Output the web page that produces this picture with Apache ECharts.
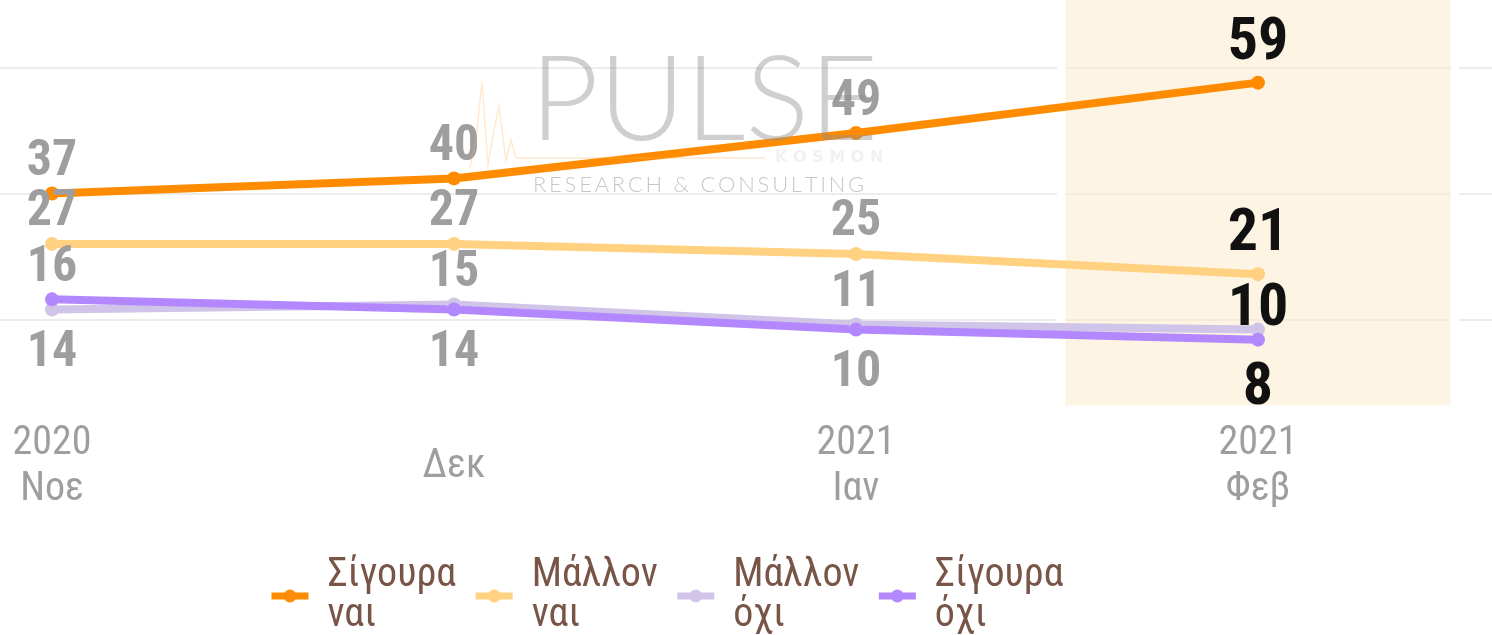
<!DOCTYPE html>
<html>
<head>
<meta charset="utf-8">
<script src="https://cdn.jsdelivr.net/npm/echarts@6/dist/echarts.min.js"></script>
<style>
  html, body { margin: 0; padding: 0; background: #fff; }
  #chart { width: 1492px; height: 635px; }
</style>
</head>
<body>
<div id="chart"></div>
<script>
// months on the x axis
const months = ['2020\nΝοε', 'Δεκ', '2021\nΙαν', '2021\nΦεβ'];
const highlightMonth = '2021\nΦεβ';

// survey answers, %
const seriesNames = ['Σίγουρα\nναι', 'Μάλλον\nναι', 'Μάλλον\nόχι', 'Σίγουρα\nόχι'];
const definitelyYes = [37, 40, 49, 59];
const probablyYes = [27, 27, 25, 21];
const probablyNo = [14, 15, 11, 10];
const definitelyNo = [16, 14, 10, 8];

const colors = ['#ff8c00', '#ffd180', '#d1c4e9', '#b388ff'];
const condensed = "'Roboto Condensed', 'Liberation Sans Narrow', 'DejaVu Sans Condensed', Roboto, sans-serif";

let chart = echarts.init(document.getElementById('chart'));

// label above or below: the higher of the two "no" lines gets its label on top
function labelled(values, other) {
  return values.map((v, i) => {
    const last = i === values.length - 1;
    const below = other && v < other[i];
    let dist = below ? 12 : -1;
    if (last && !below) dist = other ? -17 : 2;
    return {
      value: v,
      label: {
        position: below ? 'bottom' : 'top',
        color: last ? '#111' : '#9e9e9e',
        fontSize: last ? 60 : 50,
        distance: dist
      }
    };
  });
}

function lineSeries(name, data, color) {
  return {
    name: name,
    type: 'line',
    xAxisIndex: 0,
    yAxisIndex: 0,
    z: 3,
    data: data,
    symbol: 'circle',
    symbolSize: 14,
    lineStyle: { width: 8, color: color },
    itemStyle: { color: color },
    label: {
      show: true,
      fontFamily: condensed,
      fontWeight: 'bold'
    }
  };
}

let option = {
  animation: false,
  grid: [
    { left: 52, right: 234, top: 0, bottom: 189.5 },
    { left: 0, right: 0, top: 0, bottom: 189.5 }
  ],
  xAxis: [
    {
      gridIndex: 0,
      type: 'category',
      boundaryGap: false,
      data: months,
      axisLine: { show: false },
      axisTick: { show: false },
      axisLabel: {
        color: '#9e9e9e',
        fontFamily: condensed,
        fontSize: 40,
        lineHeight: 46,
        verticalAlign: 'middle',
        margin: 21
      }
    },
    { gridIndex: 1, type: 'value', min: 0, max: 1, show: false }
  ],
  yAxis: [
    {
      gridIndex: 0, type: 'value', min: -13, max: 75.4, interval: 25,
      axisLabel: { show: false }, axisLine: { show: false }, axisTick: { show: false },
      splitLine: { show: false }
    },
    {
      gridIndex: 0, type: 'value', min: -0.0761, max: 1, show: false,
      splitLine: { show: false }
    },
    {
      gridIndex: 1, type: 'value', min: -13, max: 75.4, interval: 25,
      axisLabel: { show: false }, axisLine: { show: false }, axisTick: { show: false },
      splitLine: {
        show: true, showMinLine: false, showMaxLine: false,
        lineStyle: { color: '#e6e6e6', width: 1.5 }
      }
    }
  ],
  legend: {
    left: 263,
    top: 551,
    itemWidth: 37,
    itemHeight: 16,
    itemGap: 16,
    data: seriesNames,
    lineStyle: { width: 7 },
    textStyle: {
      color: '#795548',
      fontFamily: condensed,
      fontSize: 40,
      lineHeight: 40,
      padding: [0, 0, 0, 14]
    }
  },
  graphic: [
    {
      type: 'polyline', z: 100, silent: true,
      shape: { points: [[470, 168], [476, 140], [482, 82], [488, 165], [494, 130], [499, 106], [506, 160], [511, 140], [516, 158], [765, 158]] },
      style: { stroke: 'rgba(255,175,90,0.28)', lineWidth: 1.5, fill: null }
    },
    {
      type: 'text', z: 100, silent: true, left: 530, top: 42,
      style: { text: 'PULSE', fill: 'rgba(140,140,140,0.42)', font: '300 119px Lato, Roboto, sans-serif' }
    },
    {
      type: 'text', z: 100, silent: true, left: 775, top: 150,
      style: { text: 'K O S M O N', fill: 'rgba(215,215,215,0.35)', font: 'bold 16px "DejaVu Sans", sans-serif' }
    },
    {
      type: 'text', z: 100, silent: true, left: 533, top: 174,
      style: { text: 'RESEARCH & CONSULTING'.split('').join('\u2009'), fill: 'rgba(120,120,120,0.42)', font: '300 22px Lato, Roboto, sans-serif' }
    }
  ],
  series: [
    {
      name: 'highlight',
      type: 'bar',
      xAxisIndex: 0,
      yAxisIndex: 1,
      z: 1,
      silent: true,
      clip: false,
      barWidth: '100%',
      data: months.map(m => (m === highlightMonth ? 1.2 : null)),
      itemStyle: { color: 'rgba(251,233,199,0.5)', borderColor: '#fff', borderWidth: 8.5 }
    },
    lineSeries(seriesNames[0], labelled(definitelyYes), colors[0]),
    lineSeries(seriesNames[1], labelled(probablyYes), colors[1]),
    lineSeries(seriesNames[2], labelled(probablyNo, definitelyNo), colors[2]),
    lineSeries(seriesNames[3], labelled(definitelyNo, probablyNo), colors[3])
  ]
};

chart.setOption(option);
</script>
</body>
</html>
